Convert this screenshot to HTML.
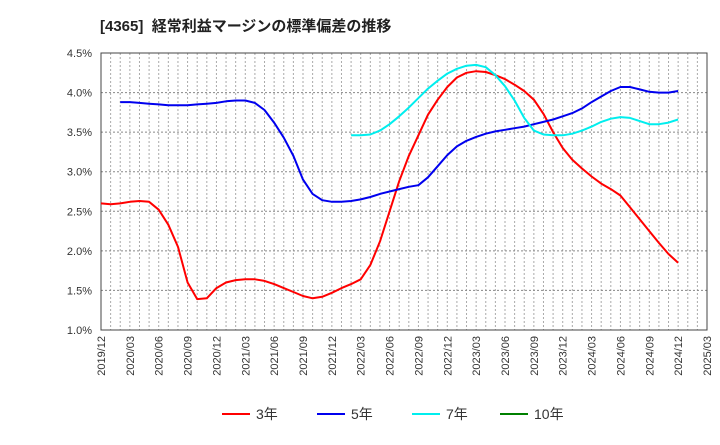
<!DOCTYPE html>
<html><head><meta charset="utf-8">
<style>
body{margin:0;background:#fff;width:720px;height:440px;overflow:hidden}
svg text{font-family:"Liberation Sans","Noto Sans CJK JP",sans-serif}
</style></head><body>
<svg id="c" width="720" height="440" xmlns="http://www.w3.org/2000/svg">
<text x="100" y="31" font-size="15" font-weight="bold" fill="#222">[4365]&#160; 経常利益マージンの標準偏差の推移</text>
<g id="grid"></g><g id="axes"></g><g id="series"></g><g id="legend"></g>
</svg>
<script>
const yTicks=[1.0,1.5,2.0,2.5,3.0,3.5,4.0,4.5];
const xTickLabels=["2019/12","2020/03","2020/06","2020/09","2020/12","2021/03","2021/06","2021/09","2021/12","2022/03","2022/06","2022/09","2022/12","2023/03","2023/06","2023/09","2023/12","2024/03","2024/06","2024/09","2024/12","2025/03"];
const red3=[2.60,2.59,2.60,2.62,2.63,2.62,2.52,2.33,2.05,1.60,1.39,1.40,1.53,1.60,1.63,1.64,1.64,1.62,1.58,1.53,1.48,1.43,1.40,1.42,1.47,1.53,1.58,1.64,1.82,2.12,2.50,2.88,3.20,3.46,3.72,3.91,4.07,4.19,4.25,4.27,4.26,4.22,4.17,4.10,4.02,3.91,3.73,3.50,3.30,3.15,3.04,2.94,2.85,2.78,2.70,2.55,2.40,2.25,2.10,1.96,1.85];
const red3Start=0;
const blue5=[3.88,3.88,3.87,3.86,3.85,3.84,3.84,3.84,3.85,3.86,3.87,3.89,3.90,3.90,3.87,3.78,3.62,3.43,3.20,2.90,2.72,2.64,2.62,2.62,2.63,2.65,2.68,2.72,2.75,2.78,2.81,2.83,2.93,3.07,3.21,3.32,3.39,3.44,3.48,3.51,3.53,3.55,3.57,3.60,3.63,3.66,3.70,3.74,3.80,3.88,3.95,4.02,4.07,4.07,4.04,4.01,4.00,4.00,4.02];
const blue5Start=2;
const cyan7=[3.46,3.46,3.47,3.52,3.60,3.70,3.81,3.93,4.05,4.15,4.24,4.30,4.34,4.35,4.32,4.22,4.08,3.90,3.68,3.52,3.47,3.46,3.46,3.48,3.52,3.57,3.63,3.67,3.69,3.68,3.64,3.60,3.60,3.62,3.66];
const cyan7Start=26;
const green10=[];
const legendLabels=["3年","5年","7年","10年"];

const NS="http://www.w3.org/2000/svg";
const L=101,R=707,T=53,B=330,NM=63;
const xS=i=>L+i*(R-L)/NM;
const yS=v=>B-(v-1)*(B-T)/3.5;
function mk(tag,attrs,parent){const e=document.createElementNS(NS,tag);for(const k in attrs)e.setAttribute(k,attrs[k]);parent.appendChild(e);return e;}
const grid=document.getElementById('grid'),axes=document.getElementById('axes'),ser=document.getElementById('series'),leg=document.getElementById('legend');
for(let i=1;i<NM;i++){const g=mk('line',{x1:xS(i),x2:xS(i),y1:T,y2:B,stroke:'#aaa','stroke-dasharray':'2,2','stroke-width':1},grid);

}
yTicks.forEach(v=>{const g=mk('line',{x1:L,x2:R,y1:yS(v),y2:yS(v),stroke:'#888','stroke-dasharray':'2,2','stroke-width':1},grid);


const t=mk('text',{x:92,y:yS(v)+4,'text-anchor':'end','font-size':11,fill:'#333'},axes);t.textContent=v.toFixed(1)+'%';

});
xTickLabels.forEach((s,k)=>{const x=xS(k*3);const t=mk('text',{x:0,y:0,transform:`translate(${x+4},${B+6}) rotate(-90)`,'text-anchor':'end','font-size':11,fill:'#333'},axes);t.textContent=s;

});
const box=mk('rect',{x:L,y:T,width:R-L,height:B-T,fill:'none',stroke:'#444','stroke-width':1},axes);


function line(vals,start,color,name){if(!vals.length)return;const p=vals.map((v,i)=>xS(start+i).toFixed(1)+','+yS(v).toFixed(1)).join(' ');
const e=mk('polyline',{points:p,fill:'none',stroke:color,'stroke-width':2,'stroke-linejoin':'round'},ser);

}
line(red3,red3Start,'#ff0000','series-3yr');
line(blue5,blue5Start,'#0000ee','series-5yr');
line(cyan7,cyan7Start,'#00eeee','series-7yr');
line(green10,0,'#008000','series-10yr');
const cols=['#ff0000','#0000ee','#00eeee','#008000'],lx=[222,317,412,500];
legendLabels.forEach((s,i)=>{const l=mk('line',{x1:lx[i],x2:lx[i]+28,y1:414,y2:414,stroke:cols[i],'stroke-width':2},leg);


const t=mk('text',{x:lx[i]+34,y:419,'font-size':14,fill:'#333'},leg);t.textContent=s;

});
</script>
</body></html>
